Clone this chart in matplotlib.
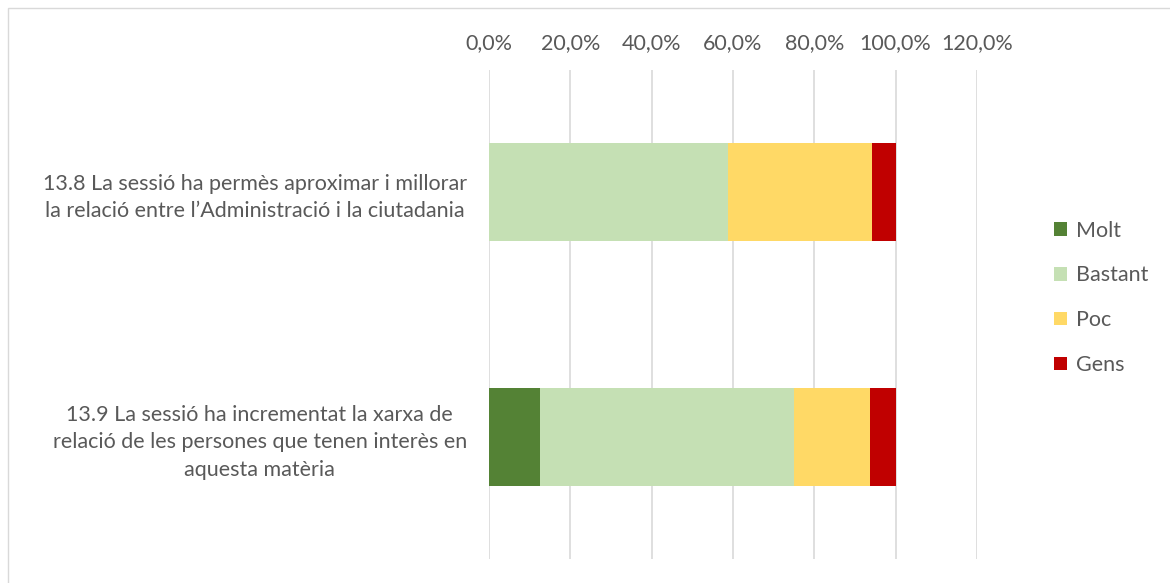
import matplotlib.pyplot as plt
from matplotlib.ticker import FuncFormatter
from matplotlib.patches import Rectangle
import numpy as np

plt.rcParams['font.family'] = ['Lato', 'DejaVu Sans']

categories = ["13.8 La sessió ha permès aproximar i millorar\nla relació entre l’Administració i la ciutadania",
              "13.9 La sessió ha incrementat la xarxa de\nrelació de les persones que tenen interès en\naquesta matèria"]
series = ["Molt", "Bastant", "Poc", "Gens"]
molt = [0.0, 12.5]
bastant = [58.8, 62.5]
poc = [35.3, 18.75]
gens = [5.9, 6.25]
colors = ["#548235", "#C5E0B4", "#FFD966", "#C00000"]

text_col = "#595959"
fs = 15.5

fig = plt.figure(figsize=(11.7, 5.83), dpi=100)
ax = fig.add_axes([489 / 1170, 1 - 559 / 583, (977 - 489) / 1170, (559 - 70) / 583])

y = np.arange(len(categories))
left = np.zeros(len(categories))
for name, vals, c in zip(series, [molt, bastant, poc, gens], colors):
    ax.barh(y, vals, left=left, height=0.4, color=c, label=name, zorder=3)
    left = left + np.array(vals)

ax.set_xlim(0, 120)
ax.set_ylim(1.5, -0.5)
ax.set_xticks(np.arange(0, 121, 20))
ax.xaxis.set_major_formatter(FuncFormatter(lambda v, p: ("%.1f%%" % v).replace(".", ",")))
ax.xaxis.tick_top()
ax.tick_params(axis='x', length=0, pad=12, labelsize=fs, labelcolor=text_col)
ax.grid(axis='x', color="#D9D9D9", linewidth=1.2, zorder=0)
ax.set_yticks(y)
ax.set_yticklabels(categories)
for lab in ax.get_yticklabels():
    lab.set_multialignment('center')
    lab.set_linespacing(1.45)
ax.tick_params(axis='y', length=0, pad=16, labelsize=fs, labelcolor=text_col)
for s in ax.spines.values():
    s.set_visible(False)

leg = ax.legend(loc='center left', bbox_to_anchor=(1.158, 0.534), frameon=False,
                fontsize=fs, handlelength=0.6, handleheight=0.6, handletextpad=0.4,
                labelspacing=1.15, borderaxespad=0, borderpad=0)
for t in leg.get_texts():
    t.set_color(text_col)

fig.patches.append(Rectangle((8 / 1170, -0.1), 1.2, 1 - 8 / 583 + 0.1, transform=fig.transFigure,
                             fill=False, edgecolor="#D9D9D9", linewidth=1))

fig.savefig("out.png", dpi=100)
